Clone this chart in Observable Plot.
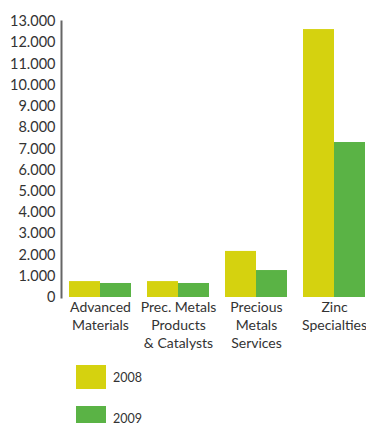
<!DOCTYPE html>
<html>
<head>
<meta charset="utf-8">
<script src="https://cdn.jsdelivr.net/npm/d3@7"></script>
<script src="https://cdn.jsdelivr.net/npm/@observablehq/plot@0.6"></script>
<style>
  html, body { margin: 0; padding: 0; background: #fff; overflow: hidden; }
  body { font-family: Lato, "Open Sans", sans-serif; color: #333; width: 366px; }
  .legend { margin-left: 76px; margin-top: 10px; }
  .legend .row { display: flex; align-items: center; height: 24px; margin-bottom: 17px; }
  .legend .sw { width: 30px; height: 24px; margin-right: 7px; }
  .legend .lbl { font-size: 12.5px; color: #333; }
</style>
</head>
<body>
<div id="chart"></div>
<script>
const categories = ["Advanced Materials", "Prec. Metals Products & Catalysts", "Precious Metals Services", "Zinc Specialties"];
const categoryLabels = ["Advanced\nMaterials", "Prec. Metals\nProducts\n& Catalysts", "Precious\nMetals\nServices", "Zinc\nSpecialties"];
const years = ["2008", "2009"];
const values2008 = [750, 750, 2170, 12620];
const values2009 = [660, 660, 1270, 7300];
const yTicks = [0, 1000, 2000, 3000, 4000, 5000, 6000, 7000, 8000, 9000, 10000, 11000, 12000, 13000];
const colors = ["#d5d20f", "#5ab345"];

const data = [];
categories.forEach((c, i) => {
  data.push({category: c, year: years[0], value: values2008[i]});
  data.push({category: c, year: years[1], value: values2009[i]});
});

const locale = d3.formatLocale({decimal: ",", thousands: ".", grouping: [3], currency: ["", "€"]});
const fmt = locale.format(",");

const chart = Plot.plot({
  width: 366,
  height: 355,
  marginLeft: 60,
  marginRight: -7,
  marginTop: 21,
  marginBottom: 58,
  style: {fontFamily: "Lato, 'Open Sans', sans-serif", color: "#333", background: "transparent"},
  fx: {domain: categories, range: [60, 373.3], padding: 0, label: null},
  x: {domain: years, paddingInner: 0, paddingOuter: 0.25, axis: null},
  y: {domain: [0, 13000], axis: null},
  color: {domain: years, range: colors},
  marks: [
    Plot.barY(data, {fx: "category", x: "year", y: "value", fill: "year"}),
    Plot.frame({anchor: "left", facetAnchor: "left", stroke: "#666", strokeWidth: 2}),
    Plot.axisY({ticks: yTicks, tickSize: 0, tickPadding: 6, tickFormat: fmt, fontSize: 14.5, facetAnchor: "left", label: null, fill: "#333"}),
    Plot.axisFx({anchor: "bottom", lineAnchor: "top", tickSize: 0, tickPadding: 2, fontSize: 14, lineHeight: 1.27, label: null, fill: "#333",
      tickFormat: d => categoryLabels[categories.indexOf(d)]})
  ]
});
document.getElementById("chart").appendChild(chart);

const legend = document.createElement("div");
legend.className = "legend";
years.forEach((y, i) => {
  const row = document.createElement("div");
  row.className = "row";
  const sw = document.createElement("div");
  sw.className = "sw";
  sw.style.background = colors[i];
  const lbl = document.createElement("span");
  lbl.className = "lbl";
  lbl.textContent = y;
  row.appendChild(sw);
  row.appendChild(lbl);
  legend.appendChild(row);
});
document.body.appendChild(legend);
</script>
</body>
</html>
